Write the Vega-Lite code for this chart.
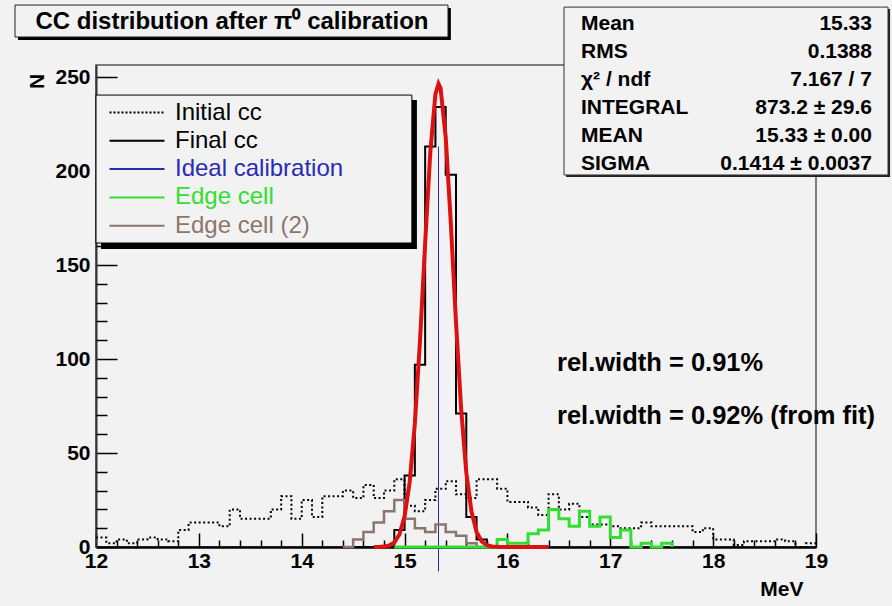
{
  "$schema": "https://vega.github.io/schema/vega-lite/v6.json",
  "width": 720,
  "height": 482,
  "autosize": {"type": "none"},
  "padding": {"left": 96, "top": 65, "right": 76, "bottom": 59},
  "background": "#f2f2f2",
  "config": {"font": "Liberation Sans", "view": {"stroke": "#555555", "strokeWidth": 1.5}},
  "resolve": {"axis": {"x": "independent", "y": "independent"}},
  "datasets": {
    "initial": [
      {"series": "Initial cc", "x": 12.0, "n": 5}, {"series": "Initial cc", "x": 12.1, "n": 2}, {"series": "Initial cc", "x": 12.2, "n": 4}, {"series": "Initial cc", "x": 12.3, "n": 2}, {"series": "Initial cc", "x": 12.4, "n": 4},
      {"series": "Initial cc", "x": 12.5, "n": 5}, {"series": "Initial cc", "x": 12.6, "n": 4}, {"series": "Initial cc", "x": 12.7, "n": 3}, {"series": "Initial cc", "x": 12.8, "n": 9}, {"series": "Initial cc", "x": 12.9, "n": 13},
      {"series": "Initial cc", "x": 13.0, "n": 13}, {"series": "Initial cc", "x": 13.1, "n": 13}, {"series": "Initial cc", "x": 13.2, "n": 11}, {"series": "Initial cc", "x": 13.3, "n": 20}, {"series": "Initial cc", "x": 13.4, "n": 15},
      {"series": "Initial cc", "x": 13.5, "n": 15}, {"series": "Initial cc", "x": 13.6, "n": 15}, {"series": "Initial cc", "x": 13.7, "n": 20}, {"series": "Initial cc", "x": 13.8, "n": 27}, {"series": "Initial cc", "x": 13.9, "n": 15},
      {"series": "Initial cc", "x": 14.0, "n": 25}, {"series": "Initial cc", "x": 14.1, "n": 16}, {"series": "Initial cc", "x": 14.2, "n": 27}, {"series": "Initial cc", "x": 14.3, "n": 27}, {"series": "Initial cc", "x": 14.4, "n": 30},
      {"series": "Initial cc", "x": 14.5, "n": 26}, {"series": "Initial cc", "x": 14.6, "n": 33}, {"series": "Initial cc", "x": 14.7, "n": 26}, {"series": "Initial cc", "x": 14.8, "n": 30}, {"series": "Initial cc", "x": 14.9, "n": 36},
      {"series": "Initial cc", "x": 15.0, "n": 22}, {"series": "Initial cc", "x": 15.1, "n": 19}, {"series": "Initial cc", "x": 15.2, "n": 25}, {"series": "Initial cc", "x": 15.3, "n": 31}, {"series": "Initial cc", "x": 15.4, "n": 35},
      {"series": "Initial cc", "x": 15.5, "n": 28}, {"series": "Initial cc", "x": 15.6, "n": 26}, {"series": "Initial cc", "x": 15.7, "n": 36}, {"series": "Initial cc", "x": 15.8, "n": 36}, {"series": "Initial cc", "x": 15.9, "n": 31},
      {"series": "Initial cc", "x": 16.0, "n": 24}, {"series": "Initial cc", "x": 16.1, "n": 24}, {"series": "Initial cc", "x": 16.2, "n": 21}, {"series": "Initial cc", "x": 16.3, "n": 17}, {"series": "Initial cc", "x": 16.4, "n": 28},
      {"series": "Initial cc", "x": 16.5, "n": 20}, {"series": "Initial cc", "x": 16.6, "n": 23}, {"series": "Initial cc", "x": 16.7, "n": 16}, {"series": "Initial cc", "x": 16.8, "n": 12}, {"series": "Initial cc", "x": 16.9, "n": 12},
      {"series": "Initial cc", "x": 17.0, "n": 11}, {"series": "Initial cc", "x": 17.1, "n": 10}, {"series": "Initial cc", "x": 17.2, "n": 10}, {"series": "Initial cc", "x": 17.3, "n": 13}, {"series": "Initial cc", "x": 17.4, "n": 11},
      {"series": "Initial cc", "x": 17.5, "n": 11}, {"series": "Initial cc", "x": 17.6, "n": 11}, {"series": "Initial cc", "x": 17.7, "n": 11}, {"series": "Initial cc", "x": 17.8, "n": 8}, {"series": "Initial cc", "x": 17.9, "n": 10},
      {"series": "Initial cc", "x": 18.0, "n": 4}, {"series": "Initial cc", "x": 18.1, "n": 4}, {"series": "Initial cc", "x": 18.2, "n": 1}, {"series": "Initial cc", "x": 18.3, "n": 3}, {"series": "Initial cc", "x": 18.4, "n": 3},
      {"series": "Initial cc", "x": 18.5, "n": 3}, {"series": "Initial cc", "x": 18.6, "n": 4}, {"series": "Initial cc", "x": 18.7, "n": 3}, {"series": "Initial cc", "x": 18.8, "n": 0}, {"series": "Initial cc", "x": 18.9, "n": 2},
      {"series": "Initial cc", "x": 19.0, "n": 2}
    ],
    "final": [
      {"series": "Final cc", "x": 14.5, "n": 0}, {"series": "Final cc", "x": 14.9, "n": 9}, {"series": "Final cc", "x": 15.0, "n": 38}, {"series": "Final cc", "x": 15.1, "n": 97},
      {"series": "Final cc", "x": 15.2, "n": 213}, {"series": "Final cc", "x": 15.3, "n": 234}, {"series": "Final cc", "x": 15.4, "n": 198}, {"series": "Final cc", "x": 15.5, "n": 71},
      {"series": "Final cc", "x": 15.6, "n": 16}, {"series": "Final cc", "x": 15.7, "n": 4}, {"series": "Final cc", "x": 15.8, "n": 0}, {"series": "Final cc", "x": 16.0, "n": 0}
    ],
    "edge2": [
      {"series": "Edge cell (2)", "x": 14.4, "n": 0}, {"series": "Edge cell (2)", "x": 14.5, "n": 4}, {"series": "Edge cell (2)", "x": 14.6, "n": 8}, {"series": "Edge cell (2)", "x": 14.7, "n": 13},
      {"series": "Edge cell (2)", "x": 14.8, "n": 19}, {"series": "Edge cell (2)", "x": 14.9, "n": 25}, {"series": "Edge cell (2)", "x": 15.0, "n": 15}, {"series": "Edge cell (2)", "x": 15.1, "n": 10},
      {"series": "Edge cell (2)", "x": 15.2, "n": 8}, {"series": "Edge cell (2)", "x": 15.3, "n": 12}, {"series": "Edge cell (2)", "x": 15.4, "n": 8}, {"series": "Edge cell (2)", "x": 15.5, "n": 6},
      {"series": "Edge cell (2)", "x": 15.6, "n": 2}, {"series": "Edge cell (2)", "x": 15.7, "n": 0}, {"series": "Edge cell (2)", "x": 15.9, "n": 0}
    ],
    "edge": [
      {"series": "Edge cell", "x": 14.9, "n": 0}, {"series": "Edge cell", "x": 15.9, "n": 4}, {"series": "Edge cell", "x": 16.0, "n": 2}, {"series": "Edge cell", "x": 16.1, "n": 2},
      {"series": "Edge cell", "x": 16.2, "n": 7}, {"series": "Edge cell", "x": 16.3, "n": 9}, {"series": "Edge cell", "x": 16.4, "n": 20}, {"series": "Edge cell", "x": 16.5, "n": 15},
      {"series": "Edge cell", "x": 16.6, "n": 11}, {"series": "Edge cell", "x": 16.7, "n": 19}, {"series": "Edge cell", "x": 16.8, "n": 11}, {"series": "Edge cell", "x": 16.9, "n": 16},
      {"series": "Edge cell", "x": 17.0, "n": 5}, {"series": "Edge cell", "x": 17.1, "n": 9}, {"series": "Edge cell", "x": 17.2, "n": 0}, {"series": "Edge cell", "x": 17.3, "n": 2},
      {"series": "Edge cell", "x": 17.4, "n": 0}, {"series": "Edge cell", "x": 17.5, "n": 2}, {"series": "Edge cell", "x": 17.6, "n": 0}
    ],
    "fit": [
      {"x": 14.70, "n": 0.01}, {"x": 14.75, "n": 0.06}, {"x": 14.80, "n": 0.22}, {"x": 14.85, "n": 0.77}, {"x": 14.90, "n": 2.42}, {"x": 14.95, "n": 6.66},
      {"x": 15.00, "n": 16.2}, {"x": 15.05, "n": 34.7}, {"x": 15.10, "n": 65.6}, {"x": 15.15, "n": 109.6}, {"x": 15.20, "n": 161.5}, {"x": 15.25, "n": 209.9},
      {"x": 15.30, "n": 240.9}, {"x": 15.33, "n": 246.4}, {"x": 15.35, "n": 244.0}, {"x": 15.40, "n": 218.0}, {"x": 15.45, "n": 171.9}, {"x": 15.50, "n": 119.6},
      {"x": 15.55, "n": 73.4}, {"x": 15.60, "n": 39.8}, {"x": 15.65, "n": 19.0}, {"x": 15.70, "n": 8.03}, {"x": 15.75, "n": 2.99}, {"x": 15.80, "n": 0.98},
      {"x": 15.85, "n": 0.29}, {"x": 15.90, "n": 0.07}, {"x": 15.95, "n": 0.02}, {"x": 16.00, "n": 0}, {"x": 16.20, "n": 0}, {"x": 16.40, "n": 0}
    ]
  },
  "layer": [
    {
      "data": {"name": "initial"},
      "mark": {"type": "line", "interpolate": "step-after", "strokeWidth": 2, "strokeDash": [2, 2.5]},
      "encoding": {
        "x": {
          "field": "x", "type": "quantitative",
          "scale": {"domain": [12, 19], "nice": false, "zero": false},
          "axis": {
            "title": "MeV", "orient": "bottom",
            "values": [12, 13, 14, 15, 16, 17, 18, 19],
            "format": "d",
            "tickSize": -14, "tickColor": "#000000", "tickWidth": 1.5,
            "domainColor": "#000000", "domainWidth": 2.5,
            "grid": false,
            "labelFont": "Liberation Sans", "labelFontWeight": "bold", "labelFontSize": 21, "labelColor": "#000000",
            "labelPadding": 17, "labelOverlap": false, "labelFlush": false,
            "titleFont": "Liberation Sans", "titleFontWeight": "bold", "titleFontSize": 21, "titleColor": "#000000",
            "titleX": 707, "titleY": 42, "titleAlign": "right", "titleBaseline": "middle", "titleAnchor": "end"
          }
        },
        "y": {
          "field": "n", "type": "quantitative",
          "scale": {"domain": [0, 256.4], "nice": false},
          "axis": {
            "title": "N", "orient": "left",
            "values": [0, 50, 100, 150, 200, 250],
            "tickSize": -21, "tickColor": "#000000", "tickWidth": 1.5,
            "domainColor": "#333333", "domainWidth": 2,
            "grid": false,
            "labelFont": "Liberation Sans", "labelFontWeight": "bold", "labelFontSize": 21, "labelColor": "#000000",
            "labelPadding": 27, "labelOverlap": false, "labelFlush": false,
            "titleFont": "Liberation Sans", "titleFontWeight": "bold", "titleFontSize": 21, "titleColor": "#000000",
            "titleX": -59, "titleY": 16, "titleAngle": 270, "titleAlign": "center", "titleBaseline": "middle"
          }
        },
        "color": {
          "field": "series", "type": "nominal",
          "scale": {
            "domain": ["Initial cc", "Final cc", "Ideal calibration", "Edge cell", "Edge cell (2)"],
            "range": ["#000000", "#000000", "#2a2ab4", "#33dd33", "#8a766c"]
          },
          "legend": {
            "orient": "none", "legendX": 29, "legendY": 35.5, "title": null,
            "symbolType": "M-5,0H5", "symbolSize": 121, "symbolStrokeWidth": 2,
            "labelFont": "Liberation Sans", "labelFontSize": 24, "labelOffset": 26,
            "rowPadding": 4.3, "padding": 0, "labelLimit": 500,
            "encode": {
              "labels": {"update": {"fill": {"scale": "color", "field": "value"}}},
              "symbols": {"update": {"strokeDash": {"signal": "datum.value === 'Initial cc' ? [2, 2] : [1, 0]"}}}
            }
          }
        }
      }
    },
    {
      "data": {"name": "final"},
      "mark": {"type": "line", "interpolate": "step-after", "strokeWidth": 2},
      "encoding": {
        "x": {"field": "x", "type": "quantitative", "axis": {
          "title": null, "orient": "bottom", "labels": false, "domain": false, "grid": false,
          "values": [12.2, 12.4, 12.6, 12.8, 13.2, 13.4, 13.6, 13.8, 14.2, 14.4, 14.6, 14.8, 15.2, 15.4, 15.6, 15.8, 16.2, 16.4, 16.6, 16.8, 17.2, 17.4, 17.6, 17.8, 18.2, 18.4, 18.6, 18.8],
          "tickSize": -7, "tickColor": "#000000", "tickWidth": 1.5}},
        "y": {"field": "n", "type": "quantitative", "axis": {
          "title": null, "orient": "left", "labels": false, "domain": false, "grid": false,
          "values": [10, 20, 30, 40, 60, 70, 80, 90, 110, 120, 130, 140, 160, 170, 180, 190, 210, 220, 230, 240],
          "tickSize": -11, "tickColor": "#000000", "tickWidth": 1.5}},
        "color": {"field": "series", "type": "nominal"}
      }
    },
    {
      "data": {"values": [{}]},
      "mark": {"type": "rule", "strokeWidth": 1},
      "encoding": {
        "x": {"datum": 15.33, "axis": null},
        "y": {"datum": -13, "axis": null},
        "y2": {"datum": 213},
        "color": {"datum": "Ideal calibration"}
      }
    },
    {
      "data": {"name": "edge2"},
      "mark": {"type": "line", "interpolate": "step-after", "strokeWidth": 2.5},
      "encoding": {
        "x": {"field": "x", "type": "quantitative", "axis": null},
        "y": {"field": "n", "type": "quantitative", "axis": null},
        "color": {"field": "series", "type": "nominal"}
      }
    },
    {
      "data": {"name": "edge"},
      "mark": {"type": "line", "interpolate": "step-after", "strokeWidth": 3},
      "encoding": {
        "x": {"field": "x", "type": "quantitative", "axis": null},
        "y": {"field": "n", "type": "quantitative", "axis": null},
        "color": {"field": "series", "type": "nominal"}
      }
    },
    {
      "data": {"name": "fit"},
      "mark": {"type": "line", "color": "#dd1111", "strokeWidth": 4},
      "encoding": {
        "x": {"field": "x", "type": "quantitative", "axis": null},
        "y": {"field": "n", "type": "quantitative", "axis": null}
      }
    },
    {
      "data": {"values": [{}]},
      "mark": {"type": "rect", "fill": "#000000"},
      "encoding": {"x": {"datum": 12.049, "axis": null}, "x2": {"datum": 15.12}, "y": {"datum": 158.5, "axis": null}, "y2": {"datum": 237.8}}
    },
    {
      "data": {"values": [{}]},
      "mark": {"type": "rect", "fill": "#f2f2f2", "stroke": "#000000", "strokeWidth": 1},
      "encoding": {"x": {"datum": 12.0, "axis": null}, "x2": {"datum": 15.071}, "y": {"datum": 161.7, "axis": null}, "y2": {"datum": 240.4}}
    },
    {
      "data": {"values": [{}]},
      "mark": {"type": "rect", "fill": "#000000"},
      "encoding": {"x": {"datum": 11.242, "axis": null}, "x2": {"datum": 15.45}, "y": {"datum": 269.7, "axis": null}, "y2": {"datum": 286.7}}
    },
    {
      "data": {"values": [{}]},
      "mark": {"type": "rect", "fill": "#f2f2f2", "stroke": "#222222", "strokeWidth": 1},
      "encoding": {"x": {"datum": 11.2125, "axis": null}, "x2": {"datum": 15.4222}, "y": {"datum": 271.3, "axis": null}, "y2": {"datum": 288.3}}
    },
    {
      "data": {"values": [{}]},
      "mark": {"type": "rect", "fill": "#222222"},
      "encoding": {"x": {"datum": 16.57, "axis": null}, "x2": {"datum": 19.72}, "y": {"datum": 196.8, "axis": null}, "y2": {"datum": 286.2}}
    },
    {
      "data": {"values": [{}]},
      "mark": {"type": "rect", "fill": "#f2f2f2", "stroke": "#333333", "strokeWidth": 1},
      "encoding": {"x": {"datum": 16.55, "axis": null}, "x2": {"datum": 19.70}, "y": {"datum": 197.9, "axis": null}, "y2": {"datum": 287.2}}
    },
    {
      "data": {"values": [{}]},
      "mark": {"type": "text", "text": "CC distribution after π⁰ calibration", "font": "Liberation Sans", "fontSize": 24, "fontWeight": "bold", "align": "center", "baseline": "middle", "color": "#000000"},
      "encoding": {"x": {"datum": 13.322, "axis": null}, "y": {"datum": 279.3, "axis": null}}
    },
    {
      "data": {"values": [{}]},
      "mark": {"type": "text", "text": ["Mean", "RMS", "χ² / ndf", "INTEGRAL", "MEAN", "SIGMA"], "lineHeight": 28, "font": "Liberation Sans", "fontSize": 21, "fontWeight": "bold", "align": "left", "baseline": "middle", "color": "#000000"},
      "encoding": {"x": {"datum": 16.715, "axis": null}, "y": {"datum": 278.2, "axis": null}}
    },
    {
      "data": {"values": [{}]},
      "mark": {"type": "text", "text": ["15.33", "0.1388", "7.167 / 7", "873.2 ± 29.6", "15.33 ± 0.00", "0.1414 ± 0.0037"], "lineHeight": 28, "font": "Liberation Sans", "fontSize": 21, "fontWeight": "bold", "align": "right", "baseline": "middle", "color": "#000000"},
      "encoding": {"x": {"datum": 19.544, "axis": null}, "y": {"datum": 278.2, "axis": null}}
    },
    {
      "data": {"values": [{}]},
      "mark": {"type": "text", "text": ["rel.width = 0.91%", "rel.width = 0.92% (from fit)"], "lineHeight": 53, "font": "Liberation Sans", "fontSize": 25.5, "fontWeight": "bold", "align": "left", "baseline": "middle", "color": "#000000"},
      "encoding": {"x": {"datum": 16.482, "axis": null}, "y": {"datum": 97.87, "axis": null}}
    }
  ]
}
